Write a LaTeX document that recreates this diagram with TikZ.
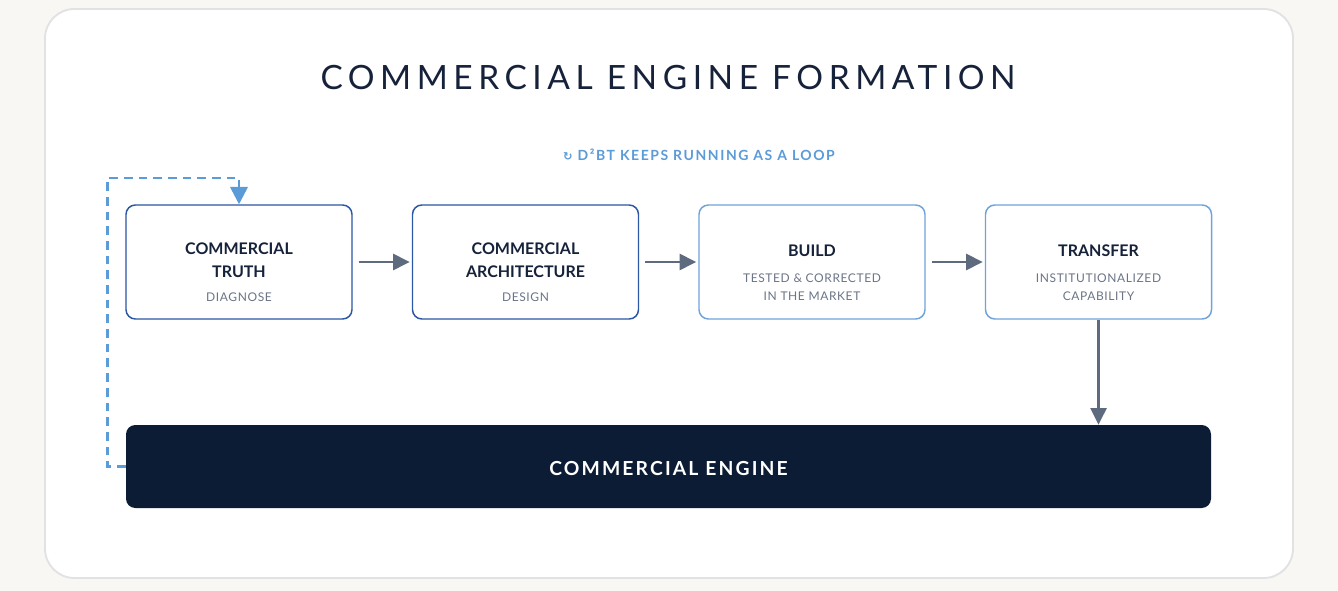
\documentclass[tikz,border=0pt]{standalone}
\usepackage{fontspec}
\setmainfont{Lato}
\newfontfamily\symfont{DejaVu Sans}
\newfontfamily\titlefont[LetterSpace=16.5]{Lato}
\newfontfamily\trackfont[LetterSpace=11]{Lato}
\newfontfamily\subfont[LetterSpace=5]{Lato}
\usetikzlibrary{arrows.meta,calc}
\definecolor{pagebg}{HTML}{F8F7F4}
\definecolor{cardline}{HTML}{E2E2E4}
\definecolor{ink}{HTML}{16223A}
\definecolor{muted}{HTML}{6B7587}
\definecolor{deepblue}{HTML}{2C57A5}
\definecolor{softblue}{HTML}{6FA3DA}
\definecolor{loopblue}{HTML}{5B9BD8}
\definecolor{flowgray}{HTML}{5E6B7F}
\definecolor{navy}{HTML}{0B1C34}
\newcommand{\stagesub}[1]{{\subfont\mdseries\fontsize{9}{11}\selectfont\color{muted}#1}}
\begin{document}
\begin{tikzpicture}[x=0.75pt,y=-0.75pt,
    stage/.style={draw=#1,line width=1.1pt,rounded corners=7pt,fill=white,
      minimum width=169.5pt,minimum height=85.5pt},
    stagetext/.style={align=center,text=ink,
      font=\bfseries\fontsize{12}{17}\selectfont},
    flow/.style={draw=flowgray,line width=1.9pt,
      -{Triangle[length=12.5pt,width=12pt]}},
    loopline/.style={draw=loopblue,line width=2pt,dash pattern=on 6.5pt off 4.5pt,
      -{Triangle[length=13pt,width=13pt]}}]
  \fill[pagebg] (0,0) rectangle (1338,591);
  \useasboundingbox (0,0) rectangle (1338,591);
  \draw[cardline,fill=white,line width=1.4pt,rounded corners=22pt] (45,9) rectangle (1293,578);

  \node[text=ink,font=\titlefont\fontsize{25.1}{30}\selectfont] (title) at (668,78) {COMMERCIAL ENGINE FORMATION};
  \node[text=loopblue,font=\trackfont\bfseries\fontsize{10.5}{12}\selectfont] (looplabel) at (699,155)
        {{\symfont\fontsize{8.5}{10}\selectfont ↻} D²BT KEEPS RUNNING AS A LOOP};

  \node[stage=deepblue] (truth) at (239,262) {};
  \node[stage=deepblue] (arch) at (525.5,262) {};
  \node[stage=softblue] (build) at (812,262) {};
  \node[stage=softblue] (transfer) at (1098.5,262) {};
  \node[fill=navy,rounded corners=7pt,minimum width=813.75pt,minimum height=62.25pt] (engine) at (668.5,466.5) {};
  \node[text=white,font=\trackfont\bfseries\fontsize{14.5}{17}\selectfont] (enginetxt)
        at ([yshift=-1.5pt]engine.center) {COMMERCIAL ENGINE};

  \node[stagetext] (truthtxt) at ([yshift=-7.8pt]truth.center)
        {COMMERCIAL\\TRUTH\\[1pt]\stagesub{DIAGNOSE}};
  \node[stagetext] (archtxt) at ([yshift=-7.8pt]arch.center)
        {COMMERCIAL\\ARCHITECTURE\\[1pt]\stagesub{DESIGN}};
  \node[stagetext] (buildtxt) at ([yshift=-8pt]build.center)
        {BUILD\\[2pt]\stagesub{TESTED \& CORRECTED}\\[-3.5pt]\stagesub{IN THE MARKET}};
  \node[stagetext] (transfertxt) at ([yshift=-8pt]transfer.center)
        {TRANSFER\\[2pt]\stagesub{INSTITUTIONALIZED}\\[-3.5pt]\stagesub{CAPABILITY}};

  \draw[flow] ([xshift=4.5pt]truth.east) -- ([xshift=-1.5pt]arch.west);
  \draw[flow] ([xshift=4.5pt]arch.east) -- ([xshift=-1.5pt]build.west);
  \draw[flow] ([xshift=4.5pt]build.east) -- ([xshift=-1.5pt]transfer.west);
  \draw[flow] (transfer.south) -- (transfer.south |- engine.north);

  \coordinate (loopturn) at (239,178);
  \draw[loopline] (engine.west) -- ++(-18,0) |- (loopturn) -- (truth.north);
\end{tikzpicture}
\end{document}
